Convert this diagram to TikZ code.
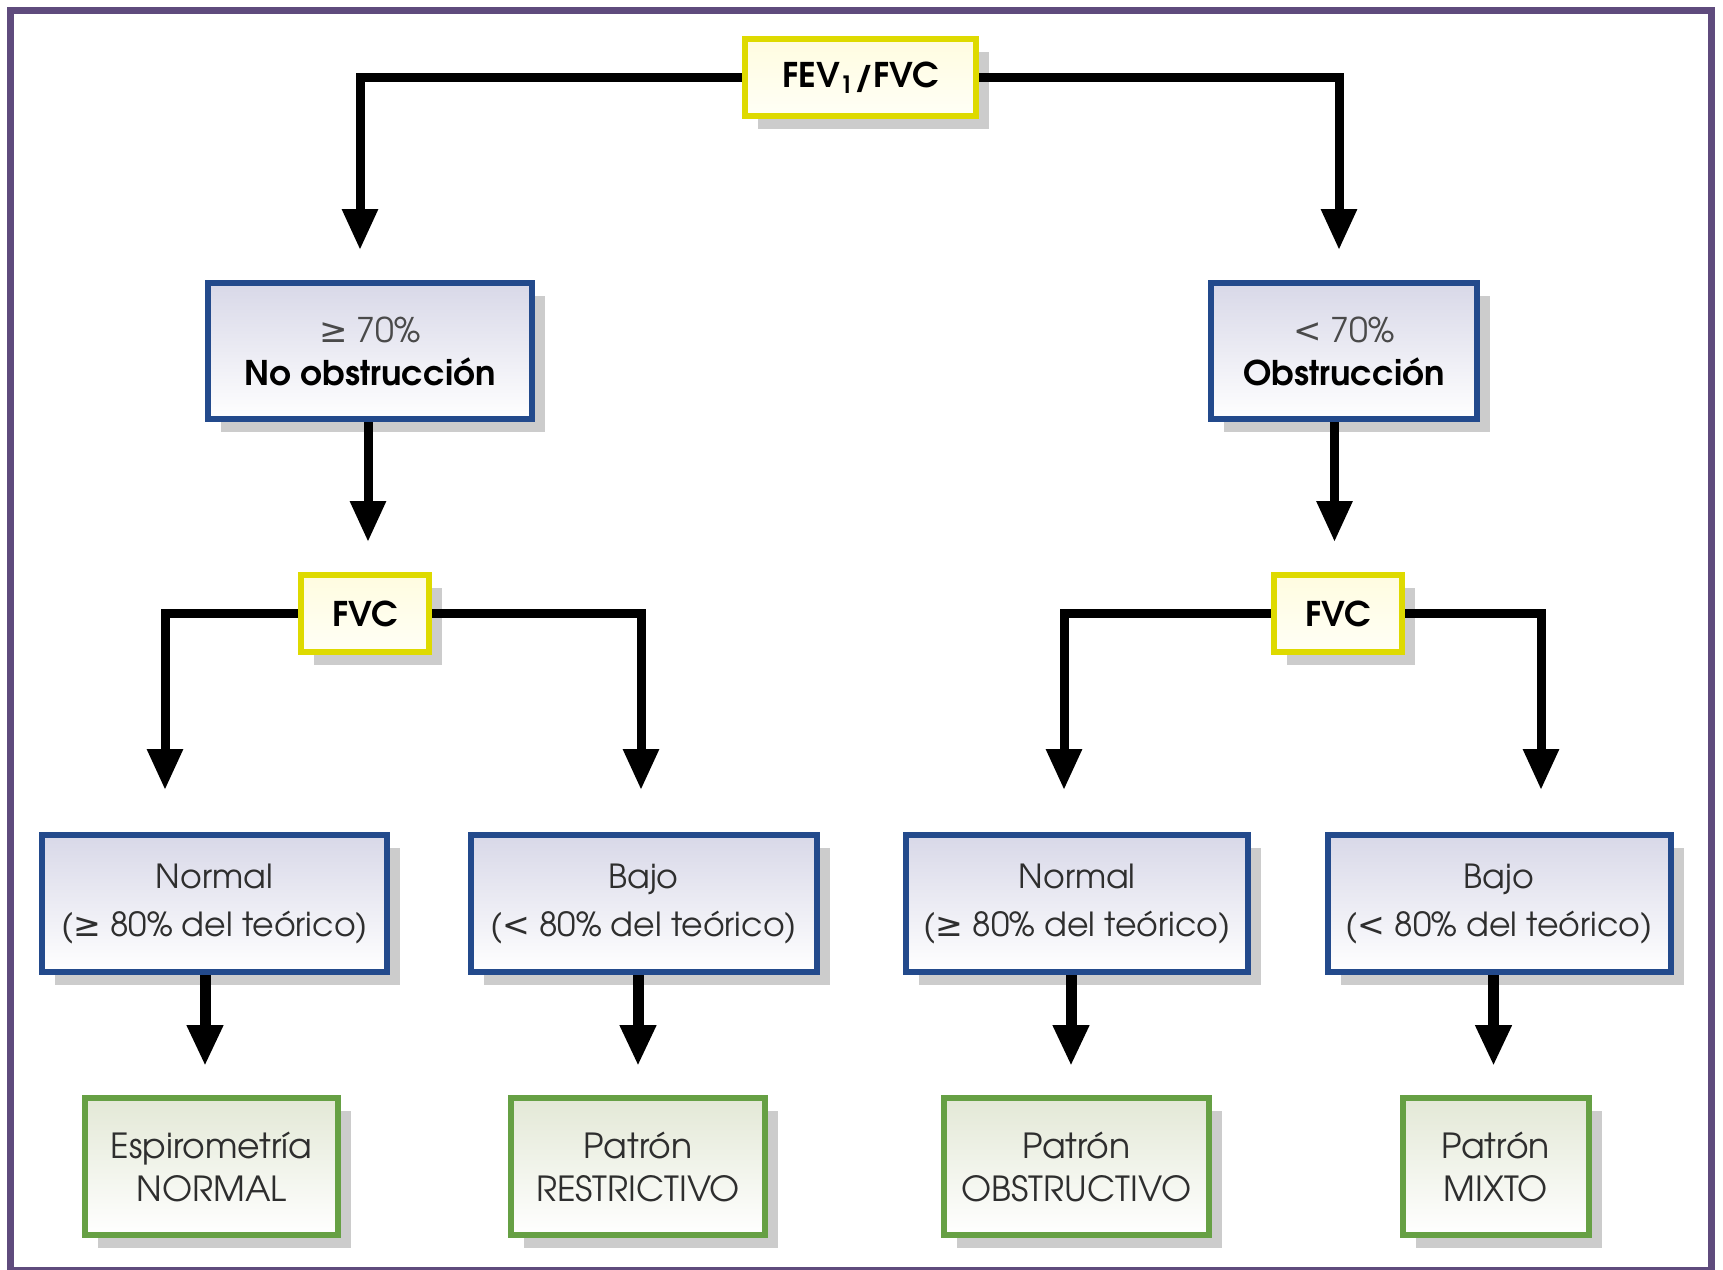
\documentclass[tikz,border=0pt]{standalone}
\usepackage{fontspec}
\setmainfont{TeX Gyre Adventor}
\newfontfamily\symf{DejaVu Sans}
\usetikzlibrary{arrows.meta,shadows}
\definecolor{frameP}{HTML}{5F4B7D}
\definecolor{boxB}{HTML}{234A8C}
\definecolor{boxG}{HTML}{66A044}
\definecolor{boxY}{HTML}{DEDA00}
\definecolor{shad}{HTML}{CCCCCC}
\definecolor{txt}{HTML}{2E2E2E}
\definecolor{txtL}{HTML}{4A4A4A}
\definecolor{blueTop}{HTML}{D8D8E8}
\definecolor{greenTop}{HTML}{E3E8D6}
\definecolor{yelTop}{HTML}{FFFCE0}
\definecolor{yelBot}{HTML}{FFFFF6}
\tikzset{
  base/.style={draw, line width=3pt, inner sep=0pt, align=center, text=txt,
    drop shadow={shadow xshift=6.5pt, shadow yshift=-6.5pt, fill=shad, opacity=1}},
  bluebox/.style={base, draw=boxB, top color=blueTop, bottom color=white,
    font=\fontsize{16.6}{24}\selectfont},
  topbox/.style={base, draw=boxB, top color=blueTop, bottom color=white,
    font=\fontsize{17}{21.5}\selectfont, minimum height=68pt},
  greenbox/.style={base, draw=boxG, top color=greenTop, bottom color=white,
    font=\fontsize{17.3}{21.5}\selectfont, minimum height=68.5pt},
  yelbox/.style={base, draw=boxY, top color=yelTop, bottom color=yelBot,
    font=\fontsize{17}{20}\selectfont\bfseries, text=black, minimum height=38.5pt},
  conn/.style={draw=black, line width=4.5pt, -{Triangle[width=17pt,length=20.5pt]}},
  connB/.style={draw=black, line width=5.5pt, -{Triangle[width=17pt,length=20.5pt]}}
}
\begin{document}
\begin{tikzpicture}[x=0.5pt,y=-0.5pt]
\useasboundingbox (0,0) rectangle (1723,1269);
\clip (0,0) rectangle (1723,1269);
\draw[frameP, line width=3.5pt] (10.5,10.5) rectangle (1711.5,1270.5);

% nodes
\node[yelbox, minimum width=115.5pt] (fev) at (860.5,77.5) {FEV\textsubscript{1}/FVC};
\node[topbox, minimum width=162pt] (ge) at (370,351)
  {{\color{txtL}\mdseries{\symf ≥} 70\%}\\{\bfseries\color{black}No obstrucción}};
\node[topbox, minimum width=133pt] (lt) at (1344,351)
  {{\color{txtL}\mdseries{\symf <} 70\%}\\{\bfseries\color{black}Obstrucción}};
\node[yelbox, minimum width=64pt] (fvcL) at (365,613.5) {FVC};
\node[yelbox, minimum width=64pt] (fvcR) at (1338,613.5) {FVC};
\node[bluebox, minimum width=172.5pt, minimum height=68.5pt] (nL) at (214.5,903.5)
  {Normal\\({\symf ≥} 80\% del teórico)};
\node[bluebox, minimum width=173pt, minimum height=68.5pt] (bL) at (643.5,903.5)
  {Bajo\\({\symf <} 80\% del teórico)};
\node[bluebox, minimum width=171pt, minimum height=68.5pt] (nR) at (1077,903.5)
  {Normal\\({\symf ≥} 80\% del teórico)};
\node[bluebox, minimum width=171.5pt, minimum height=68.5pt] (bR) at (1499,903.5)
  {Bajo\\({\symf <} 80\% del teórico)};
\node[greenbox, minimum width=126.5pt] (esp) at (211.5,1166.5) {Espirometría\\NORMAL};
\node[greenbox, minimum width=127pt] (res) at (638,1166.5) {Patrón\\RESTRICTIVO};
\node[greenbox, minimum width=132.5pt] (obs) at (1076.5,1166.5) {Patrón\\OBSTRUCTIVO};
\node[greenbox, minimum width=93pt] (mix) at (1495.5,1166.5) {Patrón\\MIXTO};

% arrow tips (free ends)
\coordinate (tFL) at (360,250);
\coordinate (tFR) at (1339,250);
\coordinate (tGE) at (368,542);
\coordinate (tLT) at (1334.5,542);
\coordinate (tVL1) at (165,790);
\coordinate (tVL2) at (641,790);
\coordinate (tVR1) at (1064,790);
\coordinate (tVR2) at (1541,790);
\coordinate (tB1) at (205,1066);
\coordinate (tB2) at (638,1066);
\coordinate (tB3) at (1071,1066);
\coordinate (tB4) at (1493.5,1066);

% connectors
\draw[conn] (fev.west) -| (tFL);
\draw[conn] (fev.east) -| (tFR);
\draw[conn] (ge.south -| tGE) -- (tGE);
\draw[conn] (lt.south -| tLT) -- (tLT);
\draw[conn] (fvcL.west) -| (tVL1);
\draw[conn] (fvcL.east) -| (tVL2);
\draw[conn] (fvcR.west) -| (tVR1);
\draw[conn] (fvcR.east) -| (tVR2);
\draw[connB] (nL.south -| tB1) -- (tB1);
\draw[connB] (bL.south -| tB2) -- (tB2);
\draw[connB] (nR.south -| tB3) -- (tB3);
\draw[connB] (bR.south -| tB4) -- (tB4);
\end{tikzpicture}
\end{document}
